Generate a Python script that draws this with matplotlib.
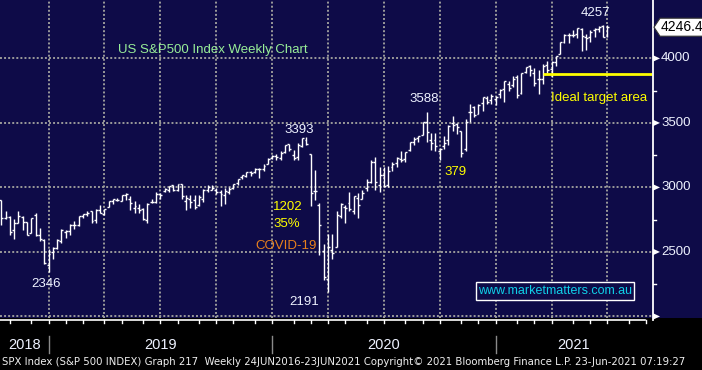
import matplotlib
matplotlib.use('Agg')
import matplotlib.pyplot as plt
import matplotlib.transforms as mtransforms
from matplotlib.patches import Rectangle, Polygon
from matplotlib.lines import Line2D
import numpy as np
import pandas as pd

# ---------------- data (weekly OHLC, week ending Friday) ----------------
start_date = '2018-10-12'
opens = [2902, 2764, 2773, 2670, 2726, 2773, 2730, 2649, 2790, 2630, 2590, 2400,
         2498, 2531, 2586, 2657, 2660, 2706, 2711, 2780, 2793, 2814, 2747, 2822, 2797,
         2848, 2892, 2904, 2898, 2940, 2909, 2840, 2841, 2830, 2751, 2886, 2889, 2952,
         2972, 2980, 3018, 2978, 3026, 2898, 2913, 2900, 2867, 2910, 2980, 2983, 2983,
         2968, 2944, 2966, 2996, 3035, 3078, 3087, 3117, 3117, 3144, 3141, 3183, 3227,
         3240, 3226, 3273, 3334, 3248, 3236, 3319, 3369, 3257, 2974, 2863, 2509, 2291,
         2514, 2539, 2782, 2845, 2878, 2815, 2915, 2914, 2993, 3039, 3199, 3016, 3094,
         3018, 3155, 3191, 3224, 3218, 3288, 3356, 3380, 3410, 3509, 3369, 3364, 3285,
         3318, 3366, 3500, 3493, 3441, 3296, 3584, 3627, 3566, 3654, 3694, 3675, 3684,
         3723, 3764, 3803, 3797, 3856, 3731, 3892, 3939, 3886, 3843, 3844, 3949, 3916,
         3969, 4034, 4124, 4179, 4185, 4192, 4228, 4169, 4168, 4217, 4229, 4248, 4174]
highs = [2902, 2816, 2779, 2756, 2815, 2775, 2733, 2760, 2800, 2685, 2601, 2520,
         2538, 2598, 2675, 2674, 2716, 2738, 2778, 2794, 2816, 2816, 2830, 2861, 2836,
         2893, 2911, 2918, 2940, 2955, 2932, 2892, 2870, 2841, 2877, 2910, 2964, 2959,
         2996, 3014, 3018, 3028, 3028, 2944, 2943, 2939, 2940, 2985, 3021, 3022, 2999,
         2983, 2993, 3000, 3027, 3067, 3097, 3120, 3127, 3154, 3150, 3183, 3226, 3248,
         3259, 3282, 3330, 3338, 3293, 3348, 3385, 3393, 3260, 3137, 2883, 2562, 2641,
         2641, 2819, 2880, 2867, 2965, 2934, 2955, 2981, 3068, 3212, 3233, 3155, 3155,
         3165, 3198, 3238, 3280, 3272, 3352, 3388, 3399, 3509, 3588, 3425, 3419, 3307,
         3397, 3483, 3550, 3502, 3441, 3529, 3646, 3628, 3644, 3699, 3712, 3726, 3711,
         3760, 3826, 3823, 3861, 3871, 3889, 3937, 3950, 3928, 3914, 3960, 3983, 3979,
         4021, 4129, 4191, 4194, 4218, 4238, 4238, 4187, 4219, 4234, 4250, 4257, 4256]
lows = [2710, 2755, 2628, 2603, 2722, 2670, 2631, 2649, 2621, 2583, 2409, 2346,
        2444, 2524, 2570, 2612, 2631, 2681, 2704, 2762, 2775, 2728, 2723, 2800, 2785,
        2848, 2874, 2894, 2892, 2900, 2825, 2801, 2805, 2750, 2728, 2876, 2880, 2912,
        2963, 2966, 2971, 2975, 2914, 2822, 2840, 2834, 2853, 2891, 2964, 2978, 2946,
        2856, 2874, 2951, 2986, 3018, 3066, 3078, 3091, 3114, 3070, 3124, 3183, 3222,
        3212, 3214, 3264, 3281, 3214, 3216, 3317, 3328, 2856, 2901, 2479, 2281, 2192,
        2448, 2539, 2761, 2727, 2816, 2798, 2767, 2910, 2969, 3032, 2984, 2966, 3004,
        3000, 3128, 3158, 3200, 3196, 3284, 3329, 3355, 3410, 3350, 3294, 3285, 3209,
        3299, 3327, 3441, 3412, 3234, 3279, 3511, 3546, 3566, 3594, 3645, 3648, 3636,
        3694, 3663, 3750, 3775, 3694, 3726, 3884, 3865, 3789, 3723, 3805, 3885, 3853,
        3943, 4034, 4122, 4118, 4163, 4160, 4057, 4062, 4128, 4167, 4206, 4165, 4164]
closes = [2767, 2768, 2658, 2723, 2781, 2736, 2633, 2760, 2633, 2600, 2417, 2486,
          2532, 2596, 2671, 2665, 2707, 2708, 2776, 2793, 2804, 2743, 2822, 2801, 2834,
          2893, 2907, 2905, 2940, 2946, 2881, 2860, 2826, 2752, 2873, 2887, 2950, 2942,
          2990, 3014, 2977, 3026, 2932, 2919, 2889, 2847, 2926, 2979, 3007, 2992, 2962,
          2952, 2970, 2986, 3023, 3067, 3093, 3120, 3110, 3141, 3146, 3169, 3221, 3240,
          3235, 3265, 3330, 3295, 3226, 3328, 3380, 3338, 2954, 2972, 2711, 2305, 2541,
          2489, 2790, 2875, 2837, 2831, 2930, 2864, 2955, 3044, 3194, 3041, 3098, 3009,
          3130, 3185, 3225, 3216, 3271, 3351, 3373, 3397, 3508, 3427, 3341, 3319, 3298,
          3348, 3477, 3484, 3465, 3270, 3510, 3585, 3558, 3638, 3699, 3663, 3709, 3703,
          3756, 3825, 3768, 3841, 3714, 3887, 3934, 3907, 3811, 3842, 3943, 3913, 3975,
          4020, 4129, 4185, 4180, 4181, 4233, 4174, 4156, 4204, 4230, 4247, 4166, 4246]

year_labels = ['2018', '2019', '2020', '2021']
price_ticks = [2500, 3000, 3500, 4000]
minor_price_ticks = [2250, 2750, 3250, 3750]
last_price = 4246.44
target_level = 3878
title_text = 'US S&P500 Index Weekly Chart'
footer_text = ('SPX Index (S&P 500 INDEX) Graph 217  Weekly 24JUN2016-23JUN2021 '
               'Copyright\u00a9 2021 Bloomberg Finance L.P. 23-Jun-2021 07:19:27')

# ---------------- figure ----------------
W, H = 702, 370
NAVY = '#0e0b48'
fig = plt.figure(figsize=(W / 100, H / 100), dpi=100, facecolor='black')

def fx(px):
    return px / W

def fy(py):
    return 1 - py / H

# navy band across the full width (top 318 px), behind everything
fig.patches.append(Rectangle((0, fy(318)), 1, 318 / H, transform=fig.transFigure,
                             facecolor=NAVY, edgecolor='none', zorder=-10))

ax = fig.add_axes([0, fy(318), fx(652), 318 / H])
ax.set_zorder(1)
ax.set_facecolor(NAVY)
for s in ax.spines.values():
    s.set_visible(False)
ax.set_xticks([])
ax.set_yticks([])

n = len(closes)
x = np.arange(n)
dates = pd.date_range(start_date, periods=n + 12, freq='W-FRI')

ax.set_xlim(-0.28, 151.35)
ax.set_ylim(1988, 4453)

# grid
grid_kw = dict(color='#9a9a9a', lw=1.4, ls=(0, (1, 1.1)), zorder=1)
for p in [2000] + price_ticks:
    ax.axhline(p, **grid_kw)
q_idx = [i for i in range(len(dates) - 1)
         if dates[i].month in (3, 6, 9, 12) and dates[i + 1].month != dates[i].month]
for i in q_idx:
    ax.axvline(i, **grid_kw)

# OHLC bars
tw = 0.45
ax.vlines(x, lows, highs, color='white', lw=1.0, zorder=3)
ax.hlines(opens, x - tw, x, color='white', lw=1.0, zorder=3)
ax.hlines(closes, x, x + tw, color='white', lw=1.0, zorder=3)

# target line
ax.plot([126, 151.35], [target_level, target_level], color='#ffff00', lw=2.0,
        solid_capstyle='butt', zorder=4, clip_on=False)

# ---------------- annotations ----------------
FONT = 'Liberation Sans'
WHITE_T = '#eef2ff'
YEL = '#ffff00'

def ftext(px, py, s, color, size=9.5, ha='left', va='center', **kw):
    fig.text(fx(px), fy(py), s, color=color, fontsize=size, ha=ha, va=va,
             family=FONT, zorder=5, **kw)

ftext(118, 50, title_text, '#98ee98', size=9.5)
ftext(299, 130, '3393', WHITE_T, ha='center')
ftext(424, 99, '3588', WHITE_T, ha='center')
ftext(595, 13, '4257', WHITE_T, ha='center')
ftext(46, 284, '2346', WHITE_T, ha='center')
ftext(304, 302, '2191', WHITE_T, ha='center')
ftext(273, 207, '1202', YEL)
ftext(273, 224, '35%', YEL)
ftext(255, 246, 'COVID-19', '#e8801c')
ftext(444, 172, '379', YEL)
ftext(551, 98, 'Ideal target area', YEL)

# website box
fig.patches.append(Rectangle((fx(476), fy(300)), fx(634) - fx(476), (300 - 282) / H,
                             transform=fig.transFigure, facecolor=NAVY,
                             edgecolor='white', lw=1.0, zorder=5))
fig.text(fx(555), fy(291.5), 'www.marketmatters.com.au', color='#10d0e8',
         fontsize=9.0, ha='center', va='center', family=FONT, zorder=6)

# ---------------- right price axis ----------------
fig.lines.append(Line2D([fx(652.5), fx(652.5)], [fy(0), fy(320)],
                        transform=fig.transFigure, color='white', lw=1.3, zorder=5))
blend_r = mtransforms.blended_transform_factory(fig.transFigure, ax.transData)
for p in price_ticks + [2000]:
    fig.patches.append(Polygon([(fx(653), p + 25), (fx(653), p - 25), (fx(660), p)],
                               closed=True, transform=blend_r, facecolor='white',
                               edgecolor='none', clip_on=False, zorder=5))
for p in price_ticks:
    fig.text(fx(661), p, str(p), transform=blend_r, color=WHITE_T, fontsize=9.5,
             ha='left', va='center', family=FONT, zorder=5)
for p in minor_price_ticks:
    fig.lines.append(Line2D([fx(653), fx(656)], [p, p], transform=blend_r,
                            color='white', lw=1.0, zorder=5))

# last price tag
py = 59 - (last_price - 4000) / 7.75
tag = Polygon([(fx(654), fy(py)), (fx(660), fy(py - 9)), (fx(705), fy(py - 9)),
               (fx(705), fy(py + 9)), (fx(660), fy(py + 9))], closed=True,
              transform=fig.transFigure, facecolor='white', edgecolor='#333333',
              lw=0.8, zorder=6)
fig.patches.append(tag)
fig.text(fx(661), fy(py), f'{last_price:.2f}', color='black', fontsize=10,
         ha='left', va='center', family=FONT, zorder=7)

# ---------------- bottom time axis ----------------
fig.lines.append(Line2D([0, fx(645)], [fy(319.5), fy(319.5)],
                        transform=fig.transFigure, color='white', lw=1.2, zorder=5))
blend_b = mtransforms.blended_transform_factory(ax.transData, fig.transFigure)
m_idx = [i for i in range(len(dates) - 1) if dates[i + 1].month != dates[i].month]
for i in m_idx:
    if i <= 150:
        fig.lines.append(Line2D([i, i], [fy(319.5), fy(323)], transform=blend_b,
                                color='white', lw=1.0, zorder=5))
year_sep = [i for i in range(len(dates) - 1)
            if dates[i].month == 12 and dates[i + 1].month == 1]
for i in year_sep:
    fig.lines.append(Line2D([i, i], [fy(336), fy(353)], transform=blend_b,
                            color='#8a8a8a', lw=1.0, zorder=5))
bounds = [-0.28] + year_sep + [151.35]
for lab, a, b in zip(year_labels, bounds[:-1], bounds[1:]):
    fig.text((a + b) / 2, fy(345), lab, transform=blend_b, color=WHITE_T,
             fontsize=10.5, ha='center', va='center', family=FONT, zorder=5)

fig.text(fx(2), fy(362), footer_text, color='#f0f0f0', fontsize=7.3, ha='left',
         va='center', family='DejaVu Sans', zorder=5)

fig.savefig('out.png', dpi=100, facecolor='black')
